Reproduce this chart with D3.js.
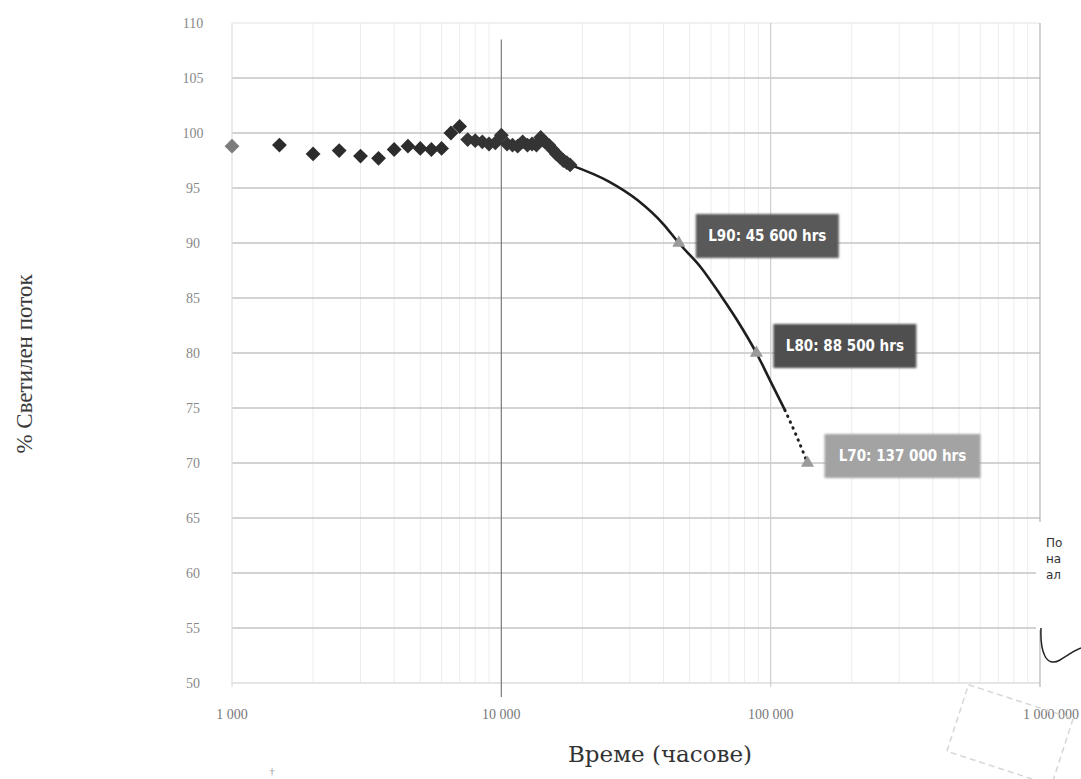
<!DOCTYPE html>
<html>
<head>
<meta charset="utf-8">
<script src="https://cdn.jsdelivr.net/npm/d3@7"></script>
<style>
  body { margin: 0; background: #fff; }
  svg { display: block; }
</style>
</head>
<body>
<svg class="chart"></svg>
<script>
// measured points: hours and % luminous flux
var hours = [1000, 1500, 2000, 2500, 3000, 3500, 4000, 4500, 5000, 5500, 6000, 6500, 7000,
             7500, 8000, 8500, 9000, 9500, 10000, 10500, 11000, 11500, 12000, 12500, 13000,
             13500, 14000, 14500, 15000, 15500, 16000, 16500, 17000, 17500, 18000];
var flux = [98.8, 98.9, 98.1, 98.4, 97.9, 97.7, 98.5, 98.8, 98.6, 98.5, 98.6, 100.0, 100.6,
            99.4, 99.3, 99.2, 99.0, 99.1, 99.8, 99.0, 98.9, 98.8, 99.2, 98.9, 99.0,
            98.9, 99.6, 99.2, 98.9, 98.5, 98.1, 97.8, 97.5, 97.3, 97.1];

// projected curve (solid) and extrapolation (dotted)
var fitHours = [18000, 25000, 32000, 40000, 45600, 55000, 65000, 75000, 88500, 100000, 113000];
var fitFlux  = [97.1, 95.6, 93.9, 91.7, 90.0, 87.8, 85.3, 83.0, 80.0, 77.4, 74.8];
var extHours = [113000, 125000, 137000];
var extFlux  = [74.8, 72.4, 70.0];

// lifetime markers
var lifeHours = [45600, 88500, 137000];
var lifeFlux  = [90, 80, 70];
var lifeText  = ["L90: 45 600 hrs", "L80: 88 500 hrs", "L70: 137 000 hrs"];
var lifeColor = ["#595959", "#4f4f4f", "#a3a3a3"];

var yTicks = [50, 55, 60, 65, 70, 75, 80, 85, 90, 95, 100, 105, 110];
var xTicks = [1000, 10000, 100000, 1000000];
var xTickText = ["1 000", "10 000", "100 000", "1 000 000"];

var W = 1081, H = 779;

var svg = d3.select(".chart")
	.attr("width", W)
	.attr("height", H);

var x = d3.scaleLog()
	.domain([1000, 1000000])
	.range([232, 1040]);
var y = d3.scaleLinear()
	.domain([50, 110])
	.range([683, 23]);

// minor vertical grid
var minor = [];
[1000, 10000, 100000].forEach(function(d) {
	for (var k = 2; k < 10; k++) minor.push(d * k);
});
svg.append("g").selectAll("line")
	.data(minor)
	.enter().append("line")
		.attr("x1", function(d) { return x(d); })
		.attr("x2", function(d) { return x(d); })
		.attr("y1", y(110))
		.attr("y2", y(50))
		.attr("stroke", "#ececec")
		.attr("stroke-width", 1);

// horizontal grid
svg.append("g").selectAll("line")
	.data(yTicks)
	.enter().append("line")
		.attr("x1", x(1000))
		.attr("x2", x(1000000))
		.attr("y1", function(d) { return y(d); })
		.attr("y2", function(d) { return y(d); })
		.attr("stroke", function(d) { return d == 110 ? "#ececec" : (d == 50 ? "#dcdcdc" : "#c4c4c4"); })
		.attr("stroke-width", 1.3);

// major vertical grid
var majorColor = ["#dedede", "#7a7a7a", "#cfcfcf", "#b5b5b5"];
svg.append("g").selectAll("line")
	.data(xTicks)
	.enter().append("line")
		.attr("x1", function(d) { return x(d); })
		.attr("x2", function(d) { return x(d); })
		.attr("y1", function(d) { return d == 10000 ? y(108.5) : y(110); })
		.attr("y2", function(d) { return y(50) + (d == 10000 ? 14 : 4); })
		.attr("stroke", function(d, i) { return majorColor[i]; })
		.attr("stroke-width", 1.2);

// y tick labels
svg.append("g").selectAll("text")
	.data(yTicks)
	.enter().append("text")
		.attr("x", 193)
		.attr("y", function(d) { return y(d) + 5; })
		.attr("text-anchor", "middle")
		.style("font-family", "Liberation Serif, serif")
		.style("font-size", "14px")
		.style("fill", "#888")
		.text(function(d) { return d; });

// x tick labels
svg.append("g").selectAll("text")
	.data(xTicks)
	.enter().append("text")
		.attr("x", function(d) { return d == 1000000 ? 1079 : x(d); })
		.attr("y", 719)
		.attr("text-anchor", function(d) { return d == 1000000 ? "end" : "middle"; })
		.style("font-family", "Liberation Serif, serif")
		.style("font-size", "14px")
		.style("fill", "#777")
		.text(function(d, i) { return xTickText[i]; });

// axis titles
svg.append("text")
	.attr("transform", "translate(32,364) rotate(-90)")
	.attr("text-anchor", "middle")
	.style("font-family", "Liberation Serif, serif")
	.style("font-size", "23px")
	.style("fill", "#3a3a3a")
	.text("% Светилен поток");

svg.append("text")
	.attr("x", 660)
	.attr("y", 762)
	.attr("text-anchor", "middle")
	.style("font-family", "DejaVu Serif, serif")
	.style("font-size", "23px")
	.style("fill", "#333")
	.text("Време (часове)");

svg.append("text")
	.attr("x", 272)
	.attr("y", 775)
	.attr("text-anchor", "middle")
	.style("font-family", "Liberation Serif, serif")
	.style("font-size", "11px")
	.style("fill", "#999")
	.text("†");

// fitted curve
var line = d3.line()
	.x(function(d) { return x(d[0]); })
	.y(function(d) { return y(d[1]); })
	.curve(d3.curveMonotoneX);

svg.append("path")
	.datum(d3.zip(fitHours, fitFlux))
	.attr("d", line)
	.attr("fill", "none")
	.attr("stroke", "#1e1e1e")
	.attr("stroke-width", 2.6);

svg.append("path")
	.datum(d3.zip(extHours, extFlux))
	.attr("d", line)
	.attr("fill", "none")
	.attr("stroke", "#1e1e1e")
	.attr("stroke-width", 3)
	.attr("stroke-linecap", "round")
	.attr("stroke-dasharray", "0.5,6");

// measured diamonds
var diamond = d3.symbol().type(d3.symbolSquare).size(110);
svg.append("g").selectAll("path")
	.data(d3.zip(hours, flux))
	.enter().append("path")
		.attr("d", diamond)
		.attr("transform", function(d) { return "translate(" + x(d[0]) + "," + y(d[1]) + ") rotate(45)"; })
		.attr("fill", function(d, i) { return i == 0 ? "#7b7b7b" : (i > 12 ? "#343434" : "#2c2c2c"); });

// lifetime markers and labels
var life = d3.zip(lifeHours, lifeFlux, lifeText, lifeColor);
var tri = d3.symbol().type(d3.symbolTriangle).size(75);

var lab = svg.append("g").selectAll("g")
	.data(life)
	.enter().append("g")
		.attr("transform", function(d) { return "translate(" + x(d[0]) + "," + y(d[1]) + ")"; });

lab.append("path")
	.attr("d", tri)
	.attr("fill", "#9a9a9a");

lab.append("rect")
	.attr("x", 17)
	.attr("y", -29)
	.attr("width", function(d, i) { return i == 2 ? 156 : 143; })
	.attr("height", 44)
	.attr("fill", function(d) { return d[3]; })
	.style("filter", "blur(1.2px)");

lab.append("text")
	.attr("x", function(d, i) { return 17 + (i == 2 ? 78 : 71.5); })
	.attr("y", -2)
	.attr("text-anchor", "middle")
	.style("font-family", "DejaVu Sans Condensed, DejaVu Sans, sans-serif")
	.style("font-weight", "bold")
	.style("font-size", "15px")
	.style("fill", "#fff")
	.text(function(d) { return d[2]; });

// clipped comment callout at the right edge
svg.append("rect")
	.attr("x", 1036)
	.attr("y", 522)
	.attr("width", 60)
	.attr("height", 108)
	.attr("fill", "#fff");

svg.append("g").selectAll("text")
	.data(["По", "на", "ал"])
	.enter().append("text")
		.attr("x", 1046)
		.attr("y", function(d, i) { return 547 + i * 16; })
		.style("font-family", "DejaVu Sans, sans-serif")
		.style("font-size", "12px")
		.style("fill", "#333")
		.text(function(d) { return d; });

svg.append("path")
	.attr("d", "M1041,628 C1040,652 1046,668 1060,660 C1068,655 1075,650 1081,648")
	.attr("fill", "none")
	.attr("stroke", "#222")
	.attr("stroke-width", 1.5);

// faint stamp in the bottom right
svg.append("rect")
	.attr("x", 955)
	.attr("y", 700)
	.attr("width", 110)
	.attr("height", 70)
	.attr("transform", "rotate(18,1010,735)")
	.attr("fill", "none")
	.attr("stroke", "#d6d6d6")
	.attr("stroke-width", 1.5)
	.attr("stroke-dasharray", "6,4");
</script>
</body>
</html>
